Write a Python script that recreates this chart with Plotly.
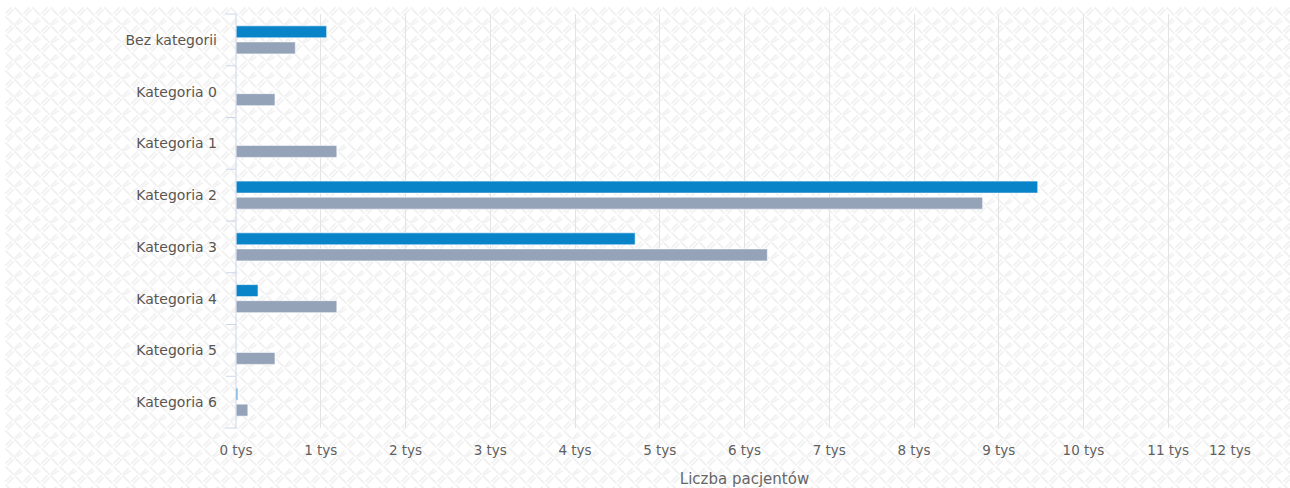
import base64
import plotly.graph_objects as go

# Patient counts per category, two series
categories = ["Bez kategorii", "Kategoria 0", "Kategoria 1", "Kategoria 2",
              "Kategoria 3", "Kategoria 4", "Kategoria 5", "Kategoria 6"]
series_a = [1070, 0, 0, 9460, 4710, 260, 0, 20]
series_b = [700, 460, 1190, 8810, 6270, 1190, 460, 140]

x_tick_values = [0, 1000, 2000, 3000, 4000, 5000, 6000, 7000, 8000, 9000, 10000, 11000, 12000]
x_tick_labels = ["0 tys", "1 tys", "2 tys", "3 tys", "4 tys", "5 tys", "6 tys",
                 "7 tys", "8 tys", "9 tys", "10 tys", "11 tys", "12 tys"]
x_title = "Liczba pacjentów"

W, H = 1290, 488
L, R, T, B = 236, 37, 14, 60
plot_w = W - L - R
plot_h = H - T - B

# Diamond-plate background texture as an SVG tile
bg_w, bg_h = W - 5, H - 7
svg = f"""<svg xmlns='http://www.w3.org/2000/svg' width='{bg_w}' height='{bg_h}'>
<defs><pattern id='p' width='18' height='18' patternUnits='userSpaceOnUse'>
<g stroke='#f2f2f2' stroke-width='1.8' stroke-linecap='round'>
<line x1='1' y1='6' x2='6' y2='1'/><line x1='3' y1='8' x2='8' y2='3'/>
<line x1='10' y1='17' x2='15' y2='12'/><line x1='12' y1='17.5' x2='17' y2='14'/>
<line x1='10' y1='1' x2='15' y2='6'/><line x1='12' y1='3' x2='17' y2='8'/>
<line x1='1' y1='10' x2='6' y2='15'/><line x1='3' y1='12' x2='8' y2='17'/>
</g></pattern></defs>
<rect width='100%' height='100%' fill='#ffffff'/>
<rect width='100%' height='100%' fill='url(#p)'/>
</svg>"""
bg_src = "data:image/svg+xml;base64," + base64.b64encode(svg.encode()).decode()

fig = go.Figure()
fig.add_trace(go.Bar(
    name="Seria 1", y=categories, x=series_a, orientation="h",
    marker=dict(color="#0a84c8", line=dict(color="rgba(255,255,255,0.6)", width=1)),
))
fig.add_trace(go.Bar(
    name="Seria 2", y=categories, x=series_b, orientation="h",
    marker=dict(color="#95a3b9", line=dict(color="rgba(255,255,255,0.6)", width=1)),
))

# Category boundary tick marks on the left axis
shapes = []
n = len(categories)
for k in range(n + 1):
    shapes.append(dict(type="line", xref="paper", yref="paper",
                       x0=-10 / plot_w, x1=0, y0=k / n, y1=k / n,
                       line=dict(color="#ccd6eb", width=1)))
shapes.append(dict(type="line", xref="paper", yref="paper",
                   x0=0, x1=0, y0=0, y1=1, line=dict(color="#ccd6eb", width=1)))

# The last x label is kept inside the plot's right edge
axis_labels = x_tick_labels[:-1] + [""]
tick_font = dict(family="DejaVu Sans, Verdana, sans-serif", size=13.5, color="#606060")
annotations = [dict(
    x=x_tick_values[-1], xref="x", y=0, yref="paper",
    text=x_tick_labels[-1], showarrow=False, xanchor="right", yanchor="top",
    yshift=-12, font=tick_font,
)]

fig.update_layout(
    width=W, height=H,
    margin=dict(l=L, r=R, t=T, b=B),
    paper_bgcolor="#ffffff",
    plot_bgcolor="rgba(0,0,0,0)",
    barmode="group",
    bargap=0.38,
    bargroupgap=0.25,
    showlegend=False,
    font=dict(family="DejaVu Sans, Verdana, sans-serif", color="#606060", size=13),
    xaxis=dict(
        range=[0, 12000], tickvals=x_tick_values, ticktext=axis_labels,
        showgrid=True, gridcolor="#e3e3e3", gridwidth=1,
        zeroline=False, showline=False, ticks="", automargin=False,
        ticklabelstandoff=12,
        tickfont=tick_font,
        title=dict(text=x_title, font=dict(size=15, color="#666666"), standoff=16),
    ),
    yaxis=dict(
        categoryorder="array", categoryarray=categories, autorange="reversed",
        showgrid=False, zeroline=False, showline=False, ticks="", automargin=False,
        ticklabelstandoff=18,
        tickfont=dict(size=14, color="#5a5550"),
    ),
    shapes=shapes,
    annotations=annotations,
    images=[dict(
        source=bg_src, xref="paper", yref="paper",
        x=(5 - L) / plot_w, y=1 + (T - 7) / plot_h,
        sizex=bg_w / plot_w, sizey=bg_h / plot_h,
        sizing="stretch", xanchor="left", yanchor="top", layer="below",
    )],
)

fig.write_html("out.html")
